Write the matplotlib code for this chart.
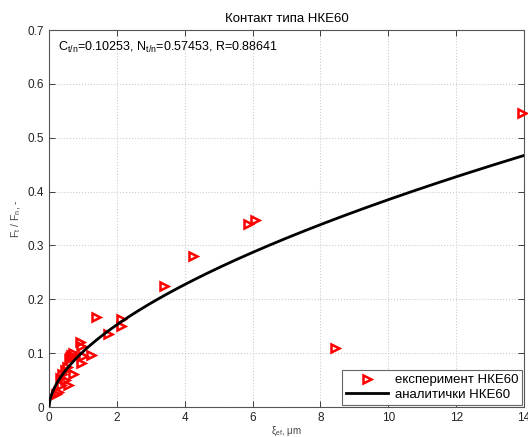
import numpy as np
import matplotlib
matplotlib.use("Agg")
import matplotlib.pyplot as plt

plt.rcParams['font.family'] = ['Liberation Sans', 'DejaVu Sans']
plt.rcParams['mathtext.default'] = 'regular'

xi_exp = [0.21, 0.26, 0.34, 0.56, 0.31, 0.46, 0.38, 0.71, 0.46, 0.54,
          0.95, 1.23, 1.00, 0.62, 0.60, 0.65, 0.71, 0.93, 0.90, 1.74,
          2.12, 2.12, 1.38, 3.38, 4.24, 5.88, 6.08, 8.42, 13.95]
f_exp = [0.025, 0.028, 0.041, 0.041, 0.054, 0.050, 0.061, 0.061, 0.069, 0.075,
         0.081, 0.097, 0.095, 0.093, 0.090, 0.097, 0.101, 0.113, 0.121, 0.136,
         0.151, 0.163, 0.168, 0.225, 0.281, 0.340, 0.348, 0.110, 0.545]

# analytic fit parameters
C_tn = 0.10253
N_tn = 0.57453
R_val = 0.88641

xticks = [0, 2, 4, 6, 8, 10, 12, 14]
yticks = [0, 0.1, 0.2, 0.3, 0.4, 0.5, 0.6, 0.7]

fig = plt.figure(figsize=(5.28, 4.37), dpi=100)
ax = fig.add_axes([49/528, 30/437, 475/528, 377/437])

xs = np.linspace(0, 14, 400)
ax.plot(xi_exp, f_exp, linestyle='none', marker='>', markersize=5.5,
        markerfacecolor='none', markeredgecolor='red', markeredgewidth=1.8,
        label='експеримент НКЕ60', zorder=3, clip_on=False)
ax.plot(xs, C_tn * xs ** N_tn, color='black', linewidth=2,
        label='аналитички НКЕ60', zorder=4)

ax.set_xlim(0, 14)
ax.set_ylim(0, 0.7)
ax.set_xticks(xticks)
ax.set_yticks(yticks)
ax.set_xticklabels([str(t) for t in xticks])
ax.set_yticklabels(['0'] + ['%.1f' % t for t in yticks[1:]])
ax.tick_params(direction='in', top=True, right=True, labelsize=8.5,
               colors='#222222', length=4, width=0.6)
for s in ax.spines.values():
    s.set_color('#555555')
    s.set_linewidth(0.8)
ax.grid(True, linestyle=':', color='#cccccc', linewidth=0.8)

ax.set_title('Контакт типа НКЕ60', fontsize=9.5, pad=6)
ax.set_xlabel(r'$\xi_{ef}$, μm', fontsize=7, color='#444444', labelpad=0.5)
ax.set_ylabel(r'F$_t$ / F$_n$, -', fontsize=7.5, color='#444444', labelpad=3)

ax.text(0.018, 0.975, r'C$_{t/n}$=%.5f, N$_{t/n}$=%.5f, R=%.5f' % (C_tn, N_tn, R_val),
        transform=ax.transAxes, fontsize=9, va='top', ha='left')

leg = ax.legend(loc='lower right', fontsize=9.5, frameon=True, fancybox=False,
                borderaxespad=0.15, handlelength=3.2, borderpad=0.3,
                labelspacing=0.2, handletextpad=0.5)
leg.get_frame().set_edgecolor('#666666')
leg.get_frame().set_linewidth(0.8)
leg.get_frame().set_alpha(1)

fig.savefig('out.png', dpi=100)
